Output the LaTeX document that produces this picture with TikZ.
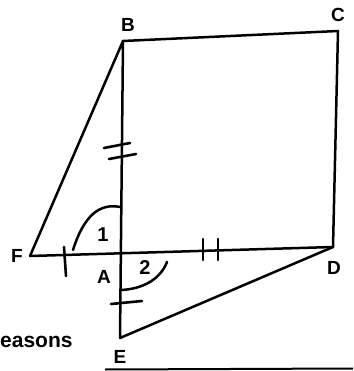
\documentclass[tikz,border=0pt]{standalone}
\usepackage{fontspec}
\setmainfont{Liberation Sans}

\begin{document}
\begin{tikzpicture}[
  x=1pt,
  y=-1pt,
  every node/.style={font=\bfseries\fontsize{19}{19}\selectfont, inner sep=0pt},
  side/.style={line width=2.5pt, line join=round, line cap=round},
  hatch/.style={line width=2.6pt, line cap=round},
  anglearc/.style={line width=2.5pt, line cap=round},
  numeral/.style={font=\bfseries\fontsize{20}{20}\selectfont},
  caption/.style={font=\bfseries\fontsize{21}{21}\selectfont, anchor=west}
]
  % ---- frame of the page ------------------------------------------------
  \useasboundingbox (0,0) rectangle (353,371);

  % ---- the points ---------------------------------------------------------
  \coordinate (B) at (123,41);
  \coordinate (C) at (338,31);
  \coordinate (D) at (333,247);
  \coordinate (A) at (120,253);
  \coordinate (F) at (30,256);
  \coordinate (E) at (120,338);

  % ---- sides --------------------------------------------------------------
  \draw[side] (F) -- (B) -- (C) -- (D) -- (E) -- (B);
  \draw[side] (F) -- (D);

  % ---- equal-length marks -------------------------------------------------
  \draw[hatch] (104,148) -- (130,143);
  \draw[hatch] (109,159) -- (136,154);
  \draw[hatch] (64,247) -- (66,276);
  \draw[hatch] (203,239) -- (203,260);
  \draw[hatch] (218,239) -- (218,260);
  \draw[hatch] (111,304) -- (142,301);

  % ---- angle arcs ---------------------------------------------------------
  \draw[anglearc] (73,250) .. controls (84,215) and (100,203) .. (120,207);
  \draw[anglearc] (121,290) .. controls (142,289) and (160,280) .. (167,262);
  \node[numeral] (one) at (103,235) {1};
  \node[numeral] (two) at (145,268) {2};

  % ---- letters ------------------------------------------------------------
  \node (labB) at (128,25) {B};
  \node (labC) at (338,15) {C};
  \node (labD) at (334,268) {D};
  \node (labA) at (104,277) {A};
  \node (labF) at (17,256) {F};
  \node (labE) at (120,357) {E};

  % ---- cut-off text and rule at the foot ----------------------------------
  \node[caption] (reasons) at (0,342) {easons};
  \draw[line width=2pt] (105,369.5) -- (353,368.5);
\end{tikzpicture}
\end{document}
